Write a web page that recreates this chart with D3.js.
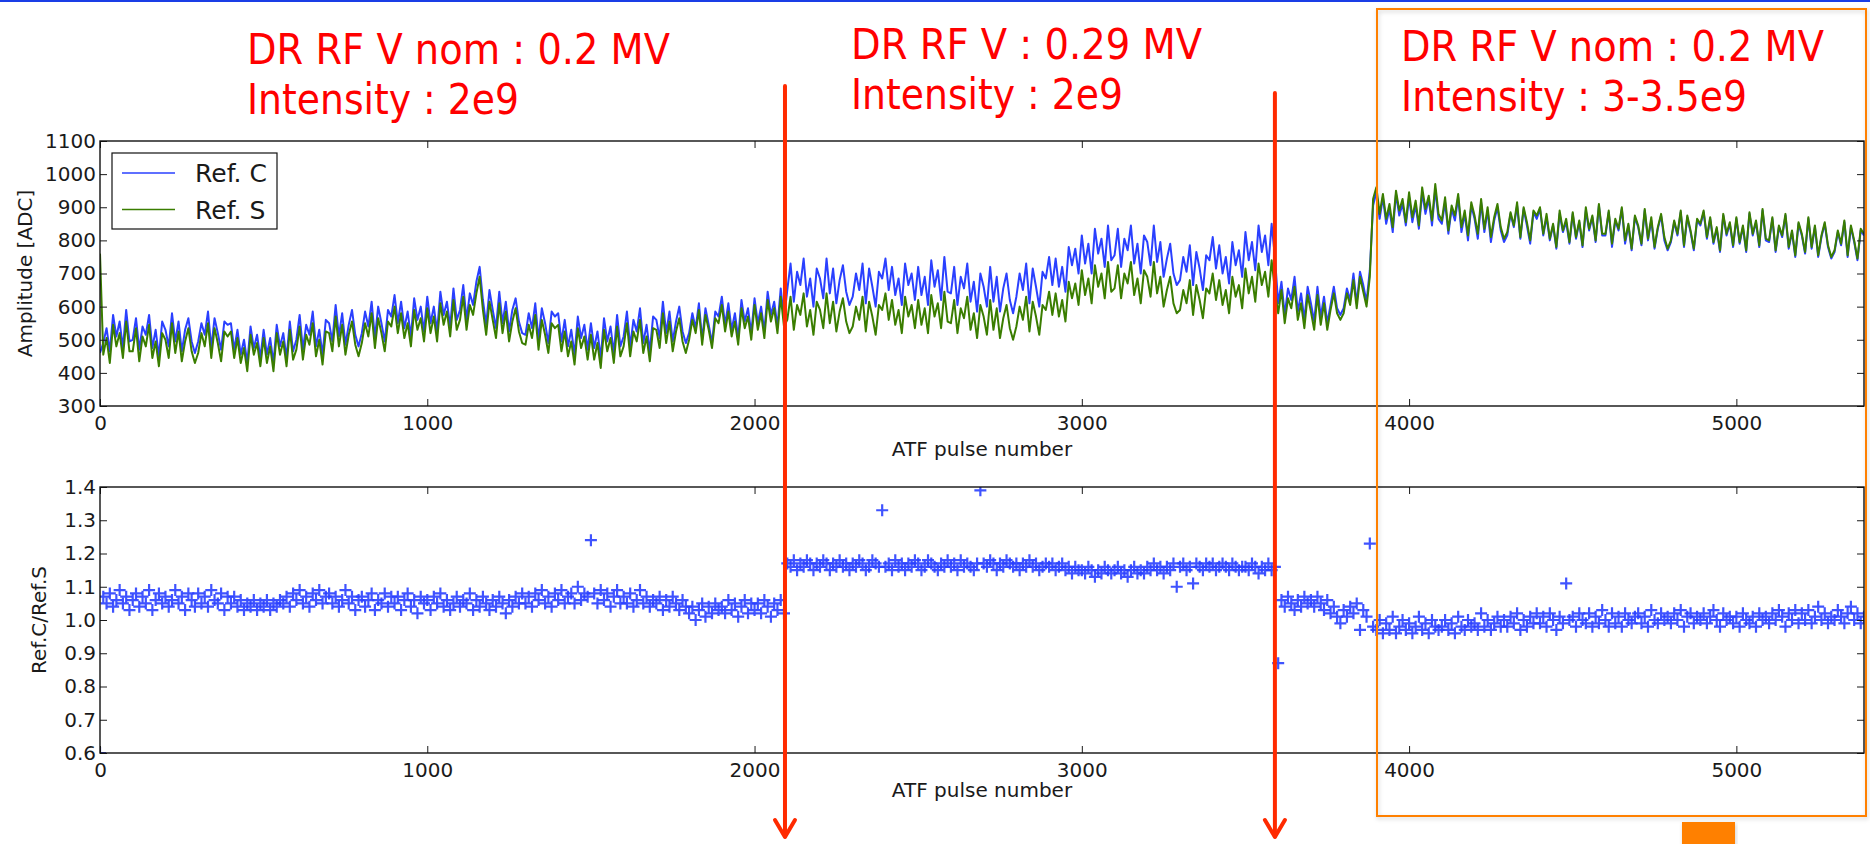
<!DOCTYPE html>
<html lang="en">
    <head>
        <meta charset="utf-8">
        <title>ATF pulse amplitude and ratio</title>
        <script type="text/javascript" src="https://d3js.org/d3.v7.min.js"></script>
        <style type="text/css">
            body { margin: 0; background: #ffffff; }
            svg { display: block; }
            .tick text { font-family: "DejaVu Sans", sans-serif; font-size: 20px; fill: #1a1a1a; }
            .tick line { stroke: #1a1a1a; stroke-width: 1; }
            .axlabel { font-family: "DejaVu Sans", sans-serif; font-size: 20px; fill: #1a1a1a; }
            .note { font-family: "DejaVu Sans Condensed", "DejaVu Sans", sans-serif; font-stretch: condensed; font-size: 42px; fill: #ff0000; }
        </style>
    </head>
    <body>
        <script type="text/javascript">

        var pulseStep = 10;

        // Ref. C (blue), ADC
        var refC = [
            460, 490, 535, 465, 575, 510, 555, 475, 590, 495,
            500, 565, 470, 540, 515, 575, 475, 530, 450, 555,
            530, 480, 580, 495, 555, 465, 530, 565, 495, 460,
            495, 550, 515, 585, 475, 565, 520, 470, 555, 545,
            550, 470, 530, 455, 500, 430, 540, 475, 515, 445,
            530, 455, 505, 430, 545, 480, 520, 445, 555, 465,
            500, 575, 470, 545, 515, 585, 480, 530, 455, 560,
            550, 495, 605, 510, 580, 485, 545, 590, 515, 480,
            520, 585, 540, 615, 505, 600, 550, 495, 590, 570,
            635, 550, 615, 535, 585, 510, 625, 560, 600, 525,
            630, 550, 600, 525, 645, 575, 615, 540, 655, 560,
            590, 665, 560, 640, 605, 675, 720, 620, 545, 650,
            590, 535, 645, 550, 615, 525, 590, 625, 555, 520,
            515, 580, 535, 610, 500, 595, 550, 490, 585, 570,
            580, 495, 560, 480, 530, 455, 570, 505, 545, 470,
            550, 475, 525, 445, 565, 495, 540, 460, 575, 480,
            510, 585, 480, 560, 525, 595, 490, 545, 465, 570,
            560, 505, 615, 520, 585, 495, 555, 600, 525, 490,
            520, 580, 535, 610, 500, 595, 545, 490, 585, 570,
            630, 545, 610, 530, 580, 505, 620, 555, 595, 520,
            625, 550, 600, 525, 645, 575, 615, 540, 655, 560,
            650, 730, 615, 705, 665, 745, 630, 685, 600, 715,
            685, 625, 745, 640, 715, 610, 680, 725, 645, 605,
            630, 700, 650, 730, 610, 715, 660, 600, 705, 685,
            745, 650, 720, 635, 685, 605, 730, 665, 700, 620,
            720, 635, 690, 605, 740, 660, 710, 620, 750, 645,
            640, 720, 605, 690, 655, 730, 615, 675, 585, 700,
            660, 600, 720, 615, 690, 585, 655, 700, 620, 580,
            630, 700, 650, 730, 610, 715, 660, 600, 705, 685,
            750, 665, 745, 660, 720, 645, 780, 725, 775, 700,
            815, 730, 790, 700, 835, 760, 805, 720, 845, 740,
            755, 835, 720, 805, 770, 845, 730, 790, 700, 815,
            795, 725, 845, 735, 795, 690, 745, 790, 700, 665,
            680, 750, 705, 785, 665, 765, 715, 650, 755, 740,
            810, 715, 785, 700, 750, 670, 795, 725, 770, 690,
            825, 740, 795, 710, 845, 765, 815, 725, 850, 750,
            610, 675, 575, 655, 620, 690, 585, 640, 560, 660,
            610, 555, 660, 570, 630, 550, 605, 660, 595, 575,
            595, 655, 620, 700, 610, 705, 665, 615, 710, 905,
            945, 865, 930, 850, 895, 825, 940, 875, 910, 845,
            930, 855, 905, 835, 945, 880, 925, 845, 955, 865,
            850, 915, 820, 895, 860, 930, 825, 880, 800, 905,
            865, 805, 915, 825, 890, 795, 860, 900, 830, 795,
            815, 880, 840, 905, 805, 895, 845, 790, 885, 865,
            895, 815, 870, 800, 845, 775, 880, 825, 855, 790,
            880, 805, 855, 780, 890, 830, 870, 795, 905, 815,
            815, 885, 780, 860, 830, 895, 790, 845, 770, 870,
            840, 785, 890, 800, 860, 775, 835, 875, 800, 770,
            795, 855, 815, 885, 780, 870, 825, 770, 860, 845,
            885, 805, 865, 790, 835, 765, 875, 815, 850, 780,
            865, 790, 840, 765, 880, 815, 855, 780, 890, 800,
            795, 865, 765, 840, 810, 875, 775, 825, 750, 850,
            815, 760, 865, 775, 840, 750, 810, 850, 780, 745,
            765, 825, 785, 855, 750, 840, 795, 740, 830, 815
        ];

        // Ref. S (green), ADC
        var refS = [
            760, 455, 505, 430, 545, 480, 520, 445, 555, 465,
            465, 535, 435, 510, 480, 545, 445, 495, 420, 520,
            500, 445, 550, 460, 525, 435, 495, 535, 465, 430,
            460, 520, 480, 550, 445, 535, 490, 435, 525, 510,
            525, 445, 505, 430, 475, 405, 515, 455, 490, 420,
            505, 430, 480, 405, 520, 455, 495, 420, 530, 440,
            470, 540, 440, 515, 485, 550, 450, 500, 425, 525,
            520, 465, 570, 480, 545, 455, 515, 555, 485, 450,
            490, 550, 510, 580, 475, 565, 520, 465, 555, 540,
            600, 520, 580, 505, 550, 480, 590, 530, 565, 495,
            595, 520, 570, 495, 610, 545, 585, 510, 620, 530,
            560, 630, 530, 605, 575, 640, 690, 590, 515, 615,
            560, 505, 610, 520, 585, 495, 555, 595, 525, 490,
            485, 545, 505, 575, 470, 560, 515, 460, 550, 535,
            545, 465, 525, 450, 495, 425, 535, 475, 510, 440,
            515, 440, 490, 415, 530, 465, 505, 430, 540, 450,
            480, 550, 450, 525, 495, 560, 460, 510, 435, 535,
            530, 475, 580, 490, 555, 465, 525, 565, 495, 460,
            500, 560, 520, 590, 485, 575, 530, 475, 565, 550,
            605, 525, 585, 510, 555, 485, 595, 535, 570, 500,
            605, 530, 580, 505, 620, 555, 595, 520, 630, 540,
            560, 630, 530, 605, 575, 640, 540, 590, 515, 615,
            590, 535, 640, 550, 615, 525, 585, 625, 555, 520,
            540, 600, 560, 630, 525, 615, 570, 515, 605, 590,
            640, 560, 620, 545, 590, 520, 630, 570, 605, 535,
            620, 545, 595, 520, 635, 570, 610, 535, 645, 555,
            550, 620, 520, 595, 565, 630, 530, 580, 505, 605,
            570, 515, 620, 530, 595, 505, 565, 605, 535, 500,
            540, 600, 560, 630, 525, 615, 570, 515, 605, 590,
            645, 575, 640, 570, 620, 555, 675, 625, 670, 605,
            710, 635, 685, 610, 725, 660, 700, 625, 735, 645,
            655, 725, 625, 700, 670, 735, 635, 685, 610, 710,
            690, 630, 735, 640, 690, 600, 650, 690, 610, 580,
            590, 650, 610, 680, 575, 665, 620, 565, 655, 640,
            700, 620, 680, 605, 650, 580, 690, 630, 665, 595,
            715, 640, 690, 615, 730, 665, 705, 630, 740, 650,
            580, 650, 550, 625, 595, 660, 560, 610, 535, 635,
            585, 530, 635, 545, 610, 530, 590, 640, 580, 560,
            580, 640, 605, 680, 595, 690, 645, 600, 690, 925,
            960, 880, 940, 865, 910, 840, 950, 890, 925, 855,
            945, 870, 920, 845, 960, 895, 935, 860, 970, 880,
            860, 930, 830, 905, 875, 940, 840, 890, 815, 915,
            875, 820, 925, 835, 900, 810, 870, 910, 840, 805,
            825, 885, 845, 915, 810, 900, 855, 800, 890, 875,
            900, 820, 880, 805, 850, 780, 890, 830, 865, 795,
            885, 810, 860, 785, 900, 835, 875, 800, 910, 820,
            820, 890, 790, 865, 835, 900, 800, 850, 775, 875,
            845, 790, 895, 805, 870, 780, 840, 880, 810, 775,
            800, 860, 820, 890, 785, 875, 830, 775, 865, 850,
            890, 810, 870, 795, 840, 770, 880, 820, 855, 785,
            870, 795, 845, 770, 885, 820, 860, 785, 895, 805,
            800, 870, 770, 845, 815, 880, 780, 830, 755, 855,
            820, 765, 870, 780, 845, 755, 815, 855, 785, 750,
            770, 830, 790, 860, 755, 845, 800, 745, 835, 820
        ];

        // Ref.C / Ref.S
        var ratio = [
            0.60, 1.07, 1.05, 1.08, 1.04, 1.06, 1.09, 1.05, 1.07, 1.03,
            1.06, 1.08, 1.04, 1.07, 1.05, 1.09, 1.03, 1.06, 1.08, 1.05,
            1.07, 1.04, 1.06, 1.09, 1.05, 1.07, 1.03, 1.08, 1.06, 1.04,
            1.08, 1.05, 1.07, 1.04, 1.09, 1.06, 1.05, 1.08, 1.03, 1.07,
            1.05, 1.07, 1.04, 1.06, 1.03, 1.05, 1.04, 1.06, 1.03, 1.05,
            1.04, 1.06, 1.03, 1.05, 1.04, 1.06, 1.05, 1.07, 1.04, 1.08,
            1.06, 1.09, 1.05, 1.07, 1.04, 1.08, 1.06, 1.09, 1.05, 1.07,
            1.08, 1.05, 1.07, 1.04, 1.06, 1.09, 1.05, 1.07, 1.03, 1.06,
            1.07, 1.04, 1.06, 1.08, 1.03, 1.06, 1.05, 1.08, 1.04, 1.07,
            1.05, 1.07, 1.03, 1.06, 1.08, 1.04, 1.06, 1.02, 1.07, 1.05,
            1.06, 1.03, 1.07, 1.05, 1.08, 1.04, 1.06, 1.03, 1.05, 1.07,
            1.04, 1.06, 1.05, 1.08, 1.03, 1.06, 1.04, 1.07, 1.05, 1.03,
            1.06, 1.04, 1.07, 1.05, 1.02, 1.06, 1.04, 1.07, 1.05, 1.08,
            1.05, 1.07, 1.04, 1.08, 1.06, 1.09, 1.05, 1.07, 1.04, 1.08,
            1.06, 1.09, 1.05, 1.07, 1.08, 1.05, 1.10, 1.06, 1.08, 1.07,
            1.24, 1.08, 1.05, 1.09, 1.06, 1.08, 1.04, 1.07, 1.09, 1.05,
            1.07, 1.05, 1.08, 1.04, 1.06, 1.09, 1.05, 1.07, 1.04, 1.06,
            1.05, 1.07, 1.03, 1.06, 1.04, 1.07, 1.05, 1.03, 1.06, 1.04,
            1.02, 1.04, 1.00, 1.03, 1.05, 1.01, 1.04, 1.02, 1.05, 1.03,
            1.04, 1.02, 1.06, 1.03, 1.05, 1.01, 1.04, 1.06, 1.02, 1.05,
            1.03, 1.05, 1.02, 1.06, 1.04, 1.01, 1.05, 1.03, 1.06, 1.02,
            1.17, 1.16, 1.18, 1.15, 1.17, 1.16, 1.18, 1.17, 1.15, 1.17,
            1.16, 1.18, 1.17, 1.15, 1.17, 1.16, 1.18, 1.16, 1.17, 1.15,
            1.17, 1.16, 1.18, 1.17, 1.15, 1.16, 1.18, 1.17, 1.16, 1.33,
            1.16, 1.17, 1.15, 1.18, 1.16, 1.17, 1.15, 1.17, 1.16, 1.18,
            1.17, 1.15, 1.16, 1.18, 1.17, 1.16, 1.15, 1.17, 1.16, 1.18,
            1.16, 1.17, 1.15, 1.18, 1.16, 1.17, 1.16, 1.15, 1.17, 1.39,
            1.17, 1.16, 1.18, 1.17, 1.15, 1.17, 1.16, 1.18, 1.17, 1.16,
            1.17, 1.15, 1.17, 1.16, 1.18, 1.16, 1.17, 1.15, 1.16, 1.17,
            1.16, 1.17, 1.15, 1.16, 1.17, 1.15, 1.16, 1.14, 1.16, 1.15,
            1.15, 1.14, 1.16, 1.15, 1.13, 1.15, 1.14, 1.16, 1.15, 1.14,
            1.15, 1.16, 1.14, 1.15, 1.13, 1.15, 1.16, 1.14, 1.15, 1.14,
            1.16, 1.15, 1.17, 1.15, 1.16, 1.14, 1.16, 1.15, 1.17, 1.10,
            1.16, 1.17, 1.15, 1.16, 1.11, 1.17, 1.16, 1.15, 1.17, 1.16,
            1.17, 1.15, 1.16, 1.17, 1.16, 1.15, 1.17, 1.16, 1.15, 1.16,
            1.16, 1.15, 1.17, 1.16, 1.14, 1.16, 1.15, 1.17, 1.15, 1.16,
            0.87, 1.06, 1.04, 1.07, 1.05, 1.03, 1.06, 1.04, 1.07, 1.05,
            1.06, 1.04, 1.07, 1.05, 1.03, 1.06, 1.02, 1.04, 1.01, 0.99,
            1.03, 1.01, 1.04, 1.02, 1.05, 0.97, 1.03, 1.01, 1.23, 0.98,
            0.97, 1.00, 0.96, 0.99, 0.97, 1.01, 0.96, 0.98, 1.00, 0.97,
            0.99, 0.96, 0.98, 1.01, 0.97, 0.99, 0.96, 1.00, 0.98, 0.97,
            0.98, 1.00, 0.97, 0.99, 0.96, 1.01, 0.98, 0.97, 1.00, 0.98,
            0.99, 0.97, 1.02, 0.98, 1.00, 0.97, 0.99, 1.01, 0.98, 1.00,
            0.98, 1.01, 0.99, 1.02, 0.97, 1.00, 0.98, 1.01, 0.99, 1.02,
            0.99, 1.01, 0.98, 1.02, 1.00, 0.97, 1.01, 0.99, 1.11, 1.00,
            1.01, 0.98, 1.02, 1.00, 0.99, 1.02, 0.98, 1.01, 0.99, 1.03,
            1.00, 0.98, 1.02, 0.99, 1.01, 0.98, 1.02, 1.00, 0.99, 1.01,
            1.02, 0.99, 1.01, 0.98, 1.03, 1.00, 0.99, 1.02, 1.00, 1.01,
            0.99, 1.02, 1.00, 1.03, 0.98, 1.01, 1.02, 0.99, 1.01, 1.00,
            1.02, 0.99, 1.01, 1.03, 1.00, 0.98, 1.02, 1.00, 1.01, 0.99,
            1.01, 0.98, 1.02, 1.00, 0.99, 1.01, 0.98, 1.02, 1.00, 1.01,
            0.99, 1.02, 1.00, 1.03, 1.01, 0.98, 1.02, 1.00, 1.03, 0.99,
            1.02, 1.00, 1.03, 0.99, 1.01, 1.04, 1.00, 1.02, 0.99, 1.01,
            1.00, 1.03, 1.01, 0.99, 1.02, 1.04, 1.00, 1.02, 0.99, 1.01
        ];

        var seriesNames = ["Ref. C", "Ref. S"];
        var seriesColors = ["#2a40ff", "#3a7d00"];

        var xTicks = [0, 1000, 2000, 3000, 4000, 5000];
        var ampTicks = [300, 400, 500, 600, 700, 800, 900, 1000, 1100];
        var ratioTicks = [0.6, 0.7, 0.8, 0.9, 1.0, 1.1, 1.2, 1.3, 1.4];
        var xTitle = "ATF pulse number";

        // slide annotations
        var notes = [
            { lines: ["DR RF V nom : 0.2 MV", "Intensity : 2e9"], x: 247, y: 64, w: [423, 272] },
            { lines: ["DR RF V : 0.29 MV", "Intensity : 2e9"], x: 851, y: 59, w: [351, 272] },
            { lines: ["DR RF V nom : 0.2 MV", "Intensity : 3-3.5e9"], x: 1401, y: 61, w: [423, 346] }
        ];
        var arrowPulses = [2093, 3590];
        var arrowTops = [86, 93];

        var W = 1870, H = 844;
        var left = 100, right = 1864;

        var svg = d3.select("body").append("svg")
            .attr("width", W)
            .attr("height", H);

        svg.append("rect").attr("width", W).attr("height", H).attr("fill", "#ffffff");

        // thin blue rule on the top of the slide
        svg.append("rect").attr("x", 0).attr("y", 0).attr("width", W).attr("height", 2).attr("fill", "#1a3ee6");

        var defs = svg.append("defs");
        var shadow = defs.append("filter").attr("id", "shadow")
            .attr("x", "-5%").attr("y", "-5%").attr("width", "110%").attr("height", "110%");
        shadow.append("feDropShadow").attr("dx", 1).attr("dy", 2).attr("stdDeviation", 2)
            .attr("flood-color", "#000").attr("flood-opacity", 0.18);

        var x = d3.scaleLinear().domain([0, 5390]).range([left, right]);
        var pulses = refS.map(function(d, i) { return i * pulseStep; });

        function drawFrame(g, y, top, bottom, ticks, fmt, ylabel, titleY) {
            var h = bottom - top;
            g.append("g")
                .attr("transform", "translate(0," + bottom + ")")
                .call(d3.axisBottom(x).tickValues(xTicks).tickFormat(d3.format("d")).tickSize(-7).tickPadding(10))
                .call(function(a) { a.select(".domain").remove(); });
            g.append("g")
                .attr("transform", "translate(0," + top + ")")
                .call(d3.axisTop(x).tickValues(xTicks).tickFormat("").tickSize(-7))
                .call(function(a) { a.select(".domain").remove(); });
            g.append("g")
                .attr("transform", "translate(" + left + ",0)")
                .call(d3.axisLeft(y).tickValues(ticks).tickFormat(fmt).tickSize(-7).tickPadding(4))
                .call(function(a) { a.select(".domain").remove(); });
            g.append("g")
                .attr("transform", "translate(" + right + ",0)")
                .call(d3.axisRight(y).tickValues(ticks).tickFormat("").tickSize(-7))
                .call(function(a) { a.select(".domain").remove(); });

            g.append("rect")
                .attr("x", left).attr("y", top)
                .attr("width", right - left).attr("height", h)
                .attr("fill", "none").attr("stroke", "#111").attr("stroke-width", 1.4);

            g.append("text").attr("class", "axlabel")
                .attr("x", (left + right) / 2).attr("y", titleY)
                .attr("text-anchor", "middle")
                .text(xTitle);

            g.append("text").attr("class", "axlabel")
                .attr("transform", "translate(" + ylabel.x + "," + (top + h / 2) + ") rotate(-90)")
                .attr("text-anchor", "middle")
                .text(ylabel.text);
        }

        // ---- top panel: amplitudes
        var top1 = 141, bot1 = 406;
        var yAmp = d3.scaleLinear().domain([300, 1100]).range([bot1, top1]);

        defs.append("clipPath").attr("id", "clip1").append("rect")
            .attr("x", left).attr("y", top1).attr("width", right - left).attr("height", bot1 - top1);

        var g1 = svg.append("g");
        var lineAmp = d3.line()
            .x(function(d, i) { return x(pulses[i]); })
            .y(function(d) { return yAmp(d); });

        var plot1 = g1.append("g").attr("clip-path", "url(#clip1)");
        [refC, refS].forEach(function(series, k) {
            plot1.append("path")
                .datum(series)
                .attr("d", lineAmp)
                .attr("fill", "none")
                .attr("stroke", seriesColors[k])
                .attr("stroke-width", 2)
                .attr("stroke-linejoin", "round");
        });

        drawFrame(g1, yAmp, top1, bot1, ampTicks, d3.format("d"), { x: 32, text: "Amplitude [ADC]" }, 456);

        // legend
        var lg = g1.append("g");
        lg.append("rect").attr("x", 112).attr("y", 153).attr("width", 165).attr("height", 76)
            .attr("fill", "#fff").attr("stroke", "#111").attr("stroke-width", 1.2);
        seriesNames.forEach(function(name, k) {
            var ry = 173 + k * 36.5;
            lg.append("line").attr("x1", 122).attr("x2", 175).attr("y1", ry).attr("y2", ry)
                .attr("stroke", seriesColors[k]).attr("stroke-width", 1.5);
            lg.append("text").attr("x", 195).attr("y", ry + 9)
                .style("font-family", "DejaVu Sans, sans-serif").style("font-size", "25px").attr("fill", "#1a1a1a")
                .text(name);
        });

        // ---- bottom panel: ratio
        var top2 = 487, bot2 = 753;
        var yRat = d3.scaleLinear().domain([0.6, 1.4]).range([bot2, top2]);

        defs.append("clipPath").attr("id", "clip2").append("rect")
            .attr("x", left).attr("y", top2).attr("width", right - left).attr("height", bot2 - top2);

        var g2 = svg.append("g");
        g2.append("g").attr("clip-path", "url(#clip2)")
            .selectAll("path.pt")
            .data(ratio)
            .enter()
            .append("path")
            .attr("class", "pt")
            .attr("transform", function(d, i) { return "translate(" + x(pulses[i]) + "," + yRat(d) + ")"; })
            .attr("d", "M-6,0H6M0,-6V6")
            .attr("stroke", "#2a40ff")
            .attr("stroke-opacity", 0.9)
            .attr("stroke-width", 2.2)
            .attr("fill", "none");

        drawFrame(g2, yRat, top2, bot2, ratioTicks, d3.format(".1f"), { x: 46, text: "Ref.C/Ref.S" }, 797);

        // ---- slide overlays: orange box, arrows, notes
        svg.append("rect")
            .attr("x", 1377).attr("y", 9).attr("width", 489).attr("height", 807)
            .attr("fill", "none").attr("stroke", "#ff8000").attr("stroke-width", 2)
            .attr("filter", "url(#shadow)");

        svg.append("rect")
            .attr("x", 1682).attr("y", 822).attr("width", 53).attr("height", 30)
            .attr("fill", "#ff8000").attr("filter", "url(#shadow)");

        arrowPulses.forEach(function(p, k) {
            var ax = x(p);
            var ag = svg.append("g").attr("stroke", "#ff2a00").attr("stroke-width", 4)
                .attr("fill", "none").attr("stroke-linecap", "round").attr("stroke-linejoin", "round");
            ag.append("line").attr("x1", ax).attr("x2", ax).attr("y1", arrowTops[k]).attr("y2", 836);
            ag.append("path").attr("d", "M" + (ax - 10) + ",820L" + ax + ",837L" + (ax + 10) + ",820");
        });

        notes.forEach(function(n) {
            n.lines.forEach(function(line, j) {
                svg.append("text").attr("class", "note")
                    .attr("x", n.x).attr("y", n.y + j * 50)
                    .attr("textLength", n.w[j])
                    .attr("lengthAdjust", "spacingAndGlyphs")
                    .text(line);
            });
        });

        </script>
    </body>
</html>
